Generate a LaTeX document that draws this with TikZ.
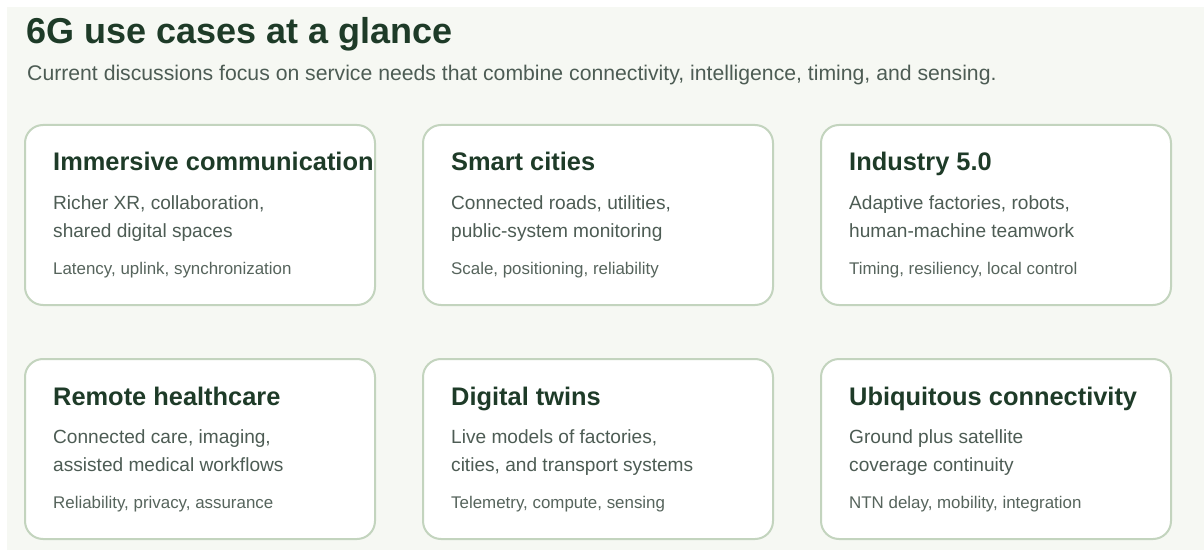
\documentclass[tikz,border=0pt]{standalone}
\usepackage{fontspec}
\setmainfont{Liberation Sans}
\definecolor{bgc}{HTML}{F6F8F3}
\definecolor{cardborder}{HTML}{C3D4BE}
\definecolor{titlec}{HTML}{1E3B28}
\definecolor{bodyc}{HTML}{4D5C54}
\definecolor{notec}{HTML}{56645C}
\tikzset{
  card/.style={draw=cardborder, line width=2pt, fill=white, rounded corners=18pt},
  cardtitle/.style={anchor=base west, inner sep=0pt, text=titlec, font=\fontsize{25.4}{30}\selectfont\bfseries},
  cardbody/.style={anchor=base west, inner sep=0pt, text=bodyc, font=\fontsize{19.1}{28}\selectfont, align=left},
  cardnote/.style={anchor=base west, inner sep=0pt, text=notec, font=\fontsize{16.9}{20}\selectfont},
}
\newcommand{\usecard}[7]{%
  % #1 name, #2 x, #3 y, #4 title, #5 line1, #6 line2, #7 note
  \draw[card] (#2,#3) rectangle ++(350,180);
  \node[cardtitle] (#1t) at (#2+28,#3+46) {#4};
  \node[cardbody] (#1b1) at (#2+28,#3+84) {#5};
  \node[cardbody] (#1b2) at (#2+28,#3+112) {#6};
  \node[cardnote] (#1n) at (#2+28,#3+149) {#7};
}
\begin{document}
\begin{tikzpicture}[x=1pt,y=-1pt]
\useasboundingbox (0,0) rectangle (1204,556);
\fill[white] (0,0) rectangle (1204,556);
\fill[bgc] (7,7) rectangle (1204,550);
\node[anchor=base west, inner sep=0pt, text=titlec, font=\fontsize{36}{40}\selectfont\bfseries] (title) at (26,44) {6G use cases at a glance};
\node[anchor=base west, inner sep=0pt, text=bodyc, font=\fontsize{21.2}{24}\selectfont] (sub) at (27,81) {Current discussions focus on service needs that combine connectivity, intelligence, timing, and sensing.};
\usecard{c1}{25}{125}{Immersive communication}{Richer XR, collaboration,}{shared digital spaces}{Latency, uplink, synchronization}
\usecard{c2}{423}{125}{Smart cities}{Connected roads, utilities,}{public-system monitoring}{Scale, positioning, reliability}
\usecard{c3}{821}{125}{Industry 5.0}{Adaptive factories, robots,}{human-machine teamwork}{Timing, resiliency, local control}
\usecard{c4}{25}{359}{Remote healthcare}{Connected care, imaging,}{assisted medical workflows}{Reliability, privacy, assurance}
\usecard{c5}{423}{359}{Digital twins}{Live models of factories,}{cities, and transport systems}{Telemetry, compute, sensing}
\usecard{c6}{821}{359}{Ubiquitous connectivity}{Ground plus satellite}{coverage continuity}{NTN delay, mobility, integration}
\end{tikzpicture}
\end{document}
